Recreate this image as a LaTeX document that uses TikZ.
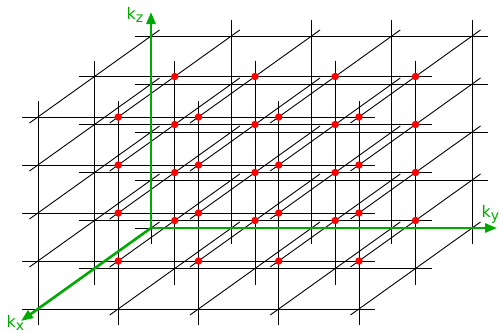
\documentclass[tikz,border=0pt]{standalone}
\usepackage{fontspec}
\setmainfont{DejaVu Sans}
\usetikzlibrary{arrows.meta}
\definecolor{axgreen}{RGB}{0,170,0}
\begin{document}
\begin{tikzpicture}[x=1pt,y=-1pt,
  gridline/.style={black,line width=0.9pt},
  axis/.style={axgreen,line width=2.6pt,-{Triangle[length=12pt,width=9pt]}},
  dot/.style={circle,fill=red,inner sep=0pt,minimum size=7.5pt},
  lbl/.style={axgreen,inner sep=0pt,anchor=base west,font=\fontsize{16}{16}\selectfont}]
\useasboundingbox (0,0) rectangle (500,332);
% vertical lines (kz direction)
\foreach \i in {0,1,2}
  \foreach \j in {0,...,4}
    \draw[gridline] ({151+80.25*\j-56.5*\i},{20+40.5*\i}) -- ({151+80.25*\j-56.5*\i},{244+40.5*\i});
% horizontal lines (ky direction)
\foreach \i in {0,1,2}
  \foreach \k in {0,...,4}
    \draw[gridline] ({135-56.5*\i},{228+40.5*\i-48*\k}) -- ({488-56.5*\i},{228+40.5*\i-48*\k});
% diagonal lines (kx direction)
\foreach \j in {0,...,4}
  \foreach \k in {0,...,4}
    \draw[gridline] ({159.5+80.25*\j},{222-48*\k}) -- ({29.5+80.25*\j},{315-48*\k});
% red lattice points
\foreach \i in {1,2}
  \foreach \j in {1,...,4}
    \foreach \k in {1,...,4}
      \node[dot] (p\i\j\k) at ({151+80.25*\j-56.5*\i},{228+40.5*\i-48*\k}) {};
% axes
\coordinate (O) at (151,228);
\coordinate (ztip) at (151,12);
\coordinate (ytip) at (497,228);
\coordinate (xtip) at (21,321);
\draw[axis] (O) -- (ztip);
\draw[axis] (O) -- (ytip);
\draw[axis] (O) -- (xtip);
\node[lbl] (kz) at (126.5,19) {k\raisebox{-3pt}{\fontsize{14}{14}\selectfont z}};
\node[lbl] (ky) at (481.5,217) {k\raisebox{-3pt}{\fontsize{14}{14}\selectfont y}};
\node[lbl] (kx) at (6.5,327) {k\raisebox{-3pt}{\fontsize{14}{14}\selectfont x}};
\end{tikzpicture}
\end{document}
